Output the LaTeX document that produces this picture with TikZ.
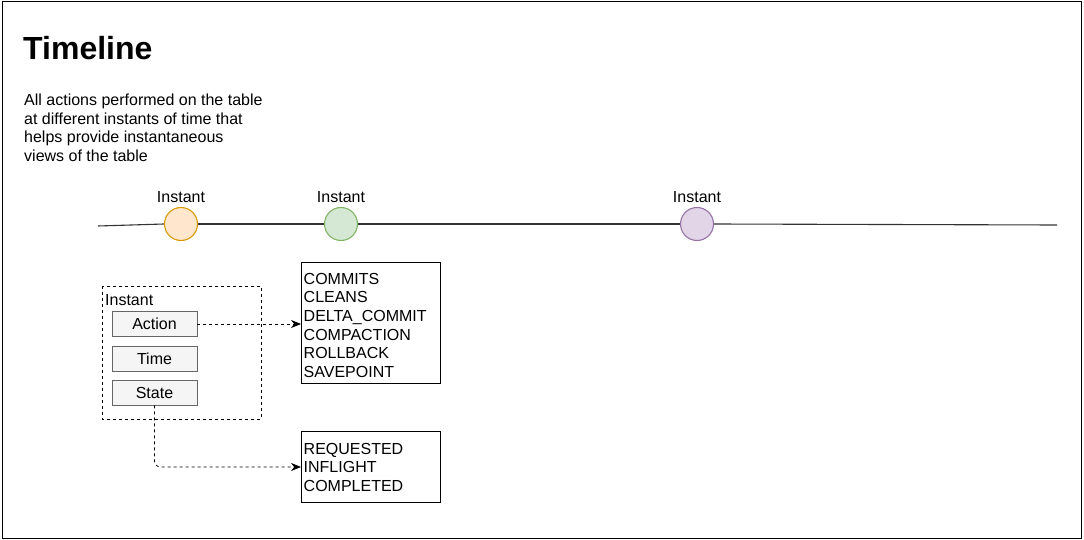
\documentclass[tikz,border=0pt]{standalone}
\usepackage{fontspec}
\setmainfont{Liberation Sans}
\usetikzlibrary{arrows.meta}
\definecolor{orfill}{HTML}{FFE6CC}\definecolor{ordraw}{HTML}{D79B00}
\definecolor{grfill}{HTML}{D5E8D4}\definecolor{grdraw}{HTML}{82B366}
\definecolor{pufill}{HTML}{E1D5E7}\definecolor{pudraw}{HTML}{9673A6}
\definecolor{boxfill}{HTML}{F5F5F5}\definecolor{boxdraw}{HTML}{666666}
\begin{document}
\begin{tikzpicture}[x=1pt,y=-1pt,
  inst/.style={circle,draw,line width=1.1pt,minimum size=33pt,inner sep=0pt},
  lbl/.style={font=\fontsize{16}{18}\selectfont,inner sep=0pt},
  field/.style={draw=boxdraw,fill=boxfill,line width=0.8pt,minimum width=85pt,minimum height=25pt,inner sep=0pt,font=\fontsize{16}{18}\selectfont},
  frame/.style={draw,line width=0.9pt,anchor=north west,minimum width=139pt,inner sep=0pt},
  listtext/.style={anchor=north west,align=left,inner sep=0pt,font=\fontsize{16}{18.6}\selectfont},
  conn/.style={dashed,line width=0.8pt,-{Stealth[length=10pt,width=8pt]}}]
\useasboundingbox (0,0) rectangle (1084,540);
\draw[line width=1pt] (2,2) rectangle (1081,538);
\node[anchor=base west,inner sep=0pt,font=\fontsize{32}{36}\bfseries] (title) at (23,60) {Timeline};
\node[listtext,font=\fontsize{16}{18.5}\selectfont] (desc) at (24,94) {All actions performed on the table\\at different instants of time that\\helps provide instantaneous\\views of the table};
\coordinate (tl0) at (98,226);
\coordinate (tl1) at (1057,225);
\node[inst,draw=ordraw,fill=orfill] (i1) at (181,224) {};
\node[inst,draw=grdraw,fill=grfill] (i2) at (341,224) {};
\node[inst,draw=pudraw,fill=pufill] (i3) at (697,224) {};
\draw[line width=1.1pt,black!80] (tl0) -- (i1.west);
\draw[line width=1.1pt,black!80] (i1.east) -- (i2.west);
\draw[line width=1.1pt,black!80] (i2.east) -- (i3.west);
\draw[line width=1.1pt,black!80] (i3.east) -- (tl1);
\node[lbl,anchor=base] (l1) at (181,203) {Instant};
\node[lbl,anchor=base] (l2) at (341,203) {Instant};
\node[lbl,anchor=base] (l3) at (697,203) {Instant};
\draw[dashed,line width=0.9pt] (102,286) rectangle (261,419);
\node[lbl,anchor=base west] (cont) at (105,305) {Instant};
\node[field] (action) at (154.5,324) {Action};
\node[field] (time) at (154.5,358.5) {Time};
\node[field] (state) at (154.5,392.5) {State};
\node[frame,minimum height=121pt] (acts) at (301,262) {};
\node[listtext] (actstext) at (303.5,273) {COMMITS\\CLEANS\\DELTA\_COMMIT\\COMPACTION\\ROLLBACK\\SAVEPOINT};
\node[frame,minimum height=71pt] (states) at (301,431) {};
\node[listtext] (statestext) at (303.5,443) {REQUESTED\\INFLIGHT\\COMPLETED};
\draw[conn] (action.east) -- (acts.west |- action.east);
\draw[conn,rounded corners=6pt] (state.south) |- (states.west |- 0,467);
\end{tikzpicture}
\end{document}
